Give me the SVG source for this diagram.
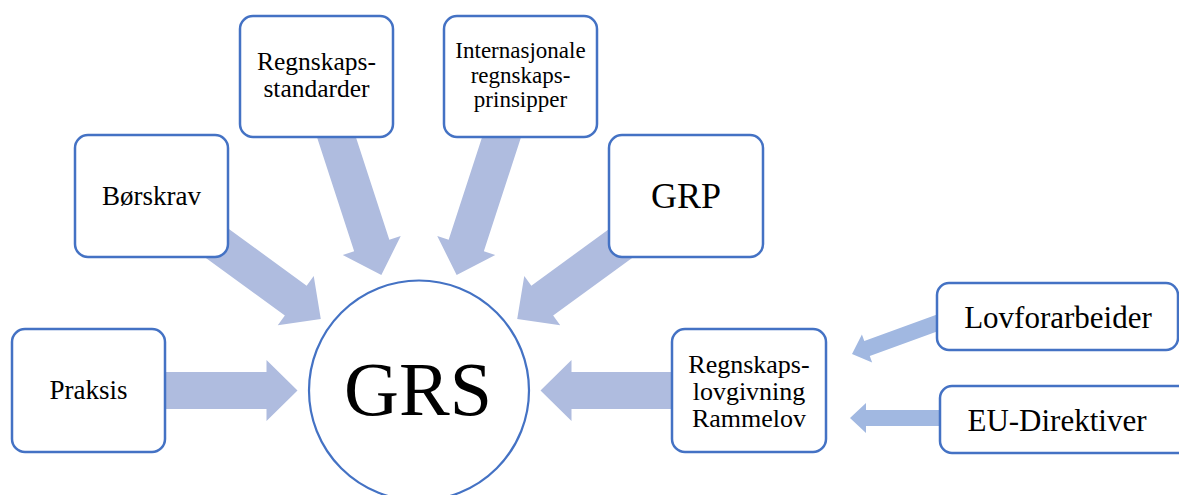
<svg xmlns="http://www.w3.org/2000/svg" xmlns:xlink="http://www.w3.org/1999/xlink" width="1179" height="495" viewBox="0 0 1179 495">
  <style>
    .box { fill: #FFFFFF; stroke: #4472C4; stroke-width: 2.5; }
    .circ { fill: #FFFFFF; stroke: #4472C4; stroke-width: 2.2; }
    .big { fill: #AFBCDF; }
    .small { fill: #A1B8E1; }
    text { font-family: "Liberation Serif", "Times New Roman", serif; fill: #000000; text-anchor: middle; }
  </style>
  <defs>
    <path id="bigArrow" d="M-210,-18.5 H-31 V-30.5 L0,0 L-31,30.5 V18.5 H-210 Z"/>
    <path id="smallArrow" d="M-100,-8 H-16 V-15 L0,0 L-16,15 V8 H-100 Z"/>
  </defs>
  <rect width="1179" height="495" fill="#FFFFFF"/>
  <g id="connectors">
    <use xlink:href="#bigArrow" class="big" transform="translate(297.5,390.5) rotate(0)"/>
    <use xlink:href="#bigArrow" class="big" transform="translate(320.8,318.9) rotate(36.1)"/>
    <use xlink:href="#bigArrow" class="big" transform="translate(381.35,275) rotate(71.95)"/>
    <use xlink:href="#bigArrow" class="big" transform="translate(456.65,275) rotate(108.05)"/>
    <use xlink:href="#bigArrow" class="big" transform="translate(517.2,318.9) rotate(143.9)"/>
    <use xlink:href="#bigArrow" class="big" transform="translate(540.5,390.5) rotate(180)"/>
    <use xlink:href="#smallArrow" class="small" transform="translate(852,354) rotate(160)"/>
    <use xlink:href="#smallArrow" class="small" transform="translate(850,418) rotate(180)"/>
  </g>
  <g id="node-grs">
    <circle class="circ" cx="419" cy="390.5" r="110"/>
    <text x="418" y="415" font-size="76">GRS</text>
  </g>
  <g id="node-praksis">
    <rect class="box" x="12" y="329" width="153" height="123" rx="13"/>
    <text x="88.5" y="399" font-size="27">Praksis</text>
  </g>
  <g id="node-borskrav">
    <rect class="box" x="75" y="135" width="153" height="122" rx="13"/>
    <text x="151.5" y="205" font-size="27">Børskrav</text>
  </g>
  <g id="node-regnskapsstandarder">
    <rect class="box" x="240" y="16" width="153" height="121" rx="13"/>
    <text x="316.5" y="70" font-size="25.5">Regnskaps-</text>
    <text x="316.5" y="97" font-size="25.5">standarder</text>
  </g>
  <g id="node-internasjonale">
    <rect class="box" x="444" y="16" width="153" height="121" rx="13"/>
    <text x="520.5" y="58" font-size="23">Internasjonale</text>
    <text x="520.5" y="83" font-size="23">regnskaps-</text>
    <text x="520.5" y="107" font-size="23">prinsipper</text>
  </g>
  <g id="node-grp">
    <rect class="box" x="609" y="135" width="154" height="122" rx="13"/>
    <text x="686" y="208" font-size="36">GRP</text>
  </g>
  <g id="node-regnskapslovgivning">
    <rect class="box" x="672" y="329" width="154" height="123" rx="13"/>
    <text x="749" y="373" font-size="26">Regnskaps-</text>
    <text x="749" y="400" font-size="26">lovgivning</text>
    <text x="749" y="427" font-size="26">Rammelov</text>
  </g>
  <g id="node-lovforarbeider">
    <rect class="box" x="937" y="283" width="241" height="67" rx="12"/>
    <text x="1058" y="328" font-size="31">Lovforarbeider</text>
  </g>
  <g id="node-eu-direktiver">
    <rect class="box" x="940" y="386" width="250" height="67" rx="12"/>
    <text x="1057" y="431" font-size="31">EU-Direktiver</text>
  </g>
</svg>
